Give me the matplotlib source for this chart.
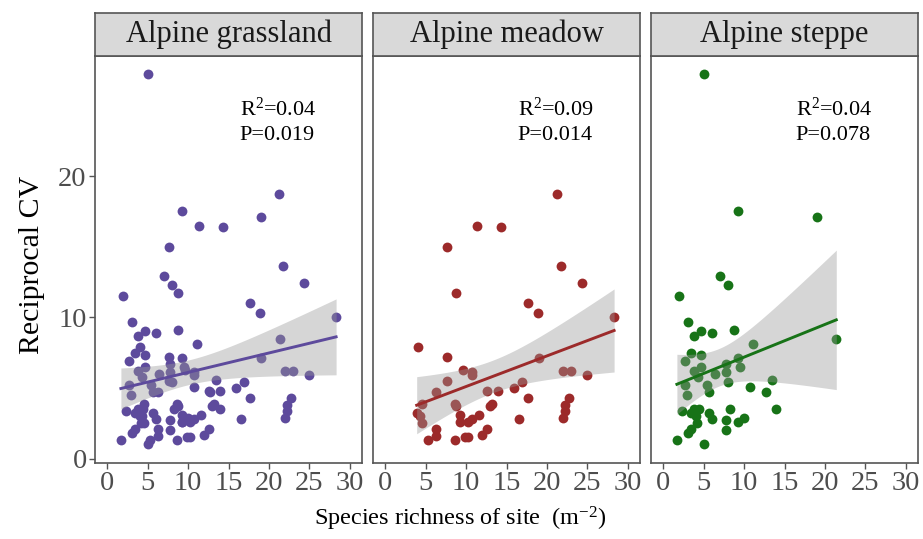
import numpy as np
import matplotlib.pyplot as plt

plt.rcParams['font.family'] = ['Liberation Serif', 'DejaVu Serif']
plt.rcParams['mathtext.fontset'] = 'custom'
plt.rcParams['mathtext.rm'] = 'Liberation Serif'
plt.rcParams['mathtext.it'] = 'Liberation Serif:italic'

# values
meadow_x = [21.3, 11.3, 14.3, 7.6, 21.7, 24.3, 8.7, 17.6, 18.9, 28.3,
            4.0, 7.6, 19.0, 9.6, 10.7, 10.7, 7.6, 22.0, 23.0, 25.0,
            6.3, 12.6, 14.0, 15.9, 16.9, 17.6, 22.7, 22.2, 22.2, 22.0,
            4.6, 8.6, 8.7, 13.2, 12.9, 3.9, 4.3, 4.6, 9.3, 9.3,
            10.3, 10.7, 11.6, 16.6, 6.3, 6.3, 5.3, 8.6, 9.9, 10.3,
            12.0, 12.6]
meadow_y = [18.7, 16.5, 16.4, 15.0, 13.6, 12.4, 11.7, 11.0, 10.3, 10.0,
            7.9, 7.2, 7.1, 6.3, 6.1, 5.9, 5.5, 6.2, 6.2, 5.9,
            4.7, 4.8, 4.8, 5.0, 5.4, 4.3, 4.3, 3.8, 3.4, 2.9,
            3.9, 3.9, 3.7, 3.9, 3.7, 3.2, 3.0, 2.5, 3.1, 2.6,
            2.6, 2.8, 3.1, 2.8, 2.1, 1.6, 1.3, 1.3, 1.5, 1.5,
            1.7, 2.1]

steppe_x = [5.1, 9.3, 19.0, 7.0, 8.0, 2.0, 3.1, 3.8, 4.7, 6.0,
            8.7, 21.4, 11.1, 3.4, 4.7, 2.7, 4.7, 7.8, 9.3, 9.5,
            3.8, 4.3, 6.4, 7.8, 13.4, 2.7, 5.4, 8.0, 10.7, 2.9,
            5.7, 12.7, 14.0, 2.3, 3.4, 3.8, 4.4, 4.0, 4.2, 5.7,
            6.0, 8.3, 7.8, 9.3, 10.0, 3.4, 3.1, 1.7, 5.1, 7.8]
steppe_y = [27.2, 17.5, 17.1, 12.9, 12.3, 11.5, 9.7, 8.7, 9.0, 8.9,
            9.1, 8.5, 8.1, 7.5, 7.3, 6.9, 6.5, 6.7, 7.1, 6.5,
            6.2, 5.8, 6.0, 6.1, 5.6, 5.2, 5.2, 5.4, 5.1, 4.5,
            4.7, 4.7, 3.5, 3.4, 3.2, 3.5, 3.5, 3.0, 2.5, 3.2,
            2.8, 3.5, 2.7, 2.6, 2.9, 2.1, 1.8, 1.3, 1.0, 2.0]

# grassland = all sites
grass_x = meadow_x + steppe_x
grass_y = meadow_y + steppe_y

panels = ['Alpine grassland', 'Alpine meadow', 'Alpine steppe']
r2_labels = ['0.04', '0.09', '0.04']
p_labels = ['0.019', '0.014', '0.078']
colors = ['#5D4A9C', '#9C2A2A', '#177317']
data = [(grass_x, grass_y), (meadow_x, meadow_y), (steppe_x, steppe_y)]


def fit_band(x, y):
    x = np.asarray(x)
    y = np.asarray(y)
    n = len(x)
    b, a = np.polyfit(x, y, 1)
    xs = np.linspace(x.min(), x.max(), 80)
    yhat = a + b * xs
    s = np.sqrt(np.sum((y - (a + b * x)) ** 2) / (n - 2))
    sxx = np.sum((x - x.mean()) ** 2)
    se = s * np.sqrt(1.0 / n + (xs - x.mean()) ** 2 / sxx)
    z = 1.96
    t = z + (z ** 3 + z) / (4 * (n - 2))
    return xs, yhat, yhat - t * se, yhat + t * se


W, H = 923, 539
fig = plt.figure(figsize=(W / 100, H / 100), dpi=100)

lefts = [95, 373, 651]
pw = 267
top, bottom = 56, 463
strip_top = 13
edge = '#555555'

for i, name in enumerate(panels):
    ax = fig.add_axes([lefts[i] / W, 1 - bottom / H, pw / W, (bottom - top) / H])
    x, y = data[i]
    ax.scatter(x, y, s=50, color=colors[i], linewidths=0, zorder=2)
    xs, yhat, lo, hi = fit_band(x, y)
    ax.fill_between(xs, lo, hi, color='#999999', alpha=0.4, linewidth=0, zorder=3)
    ax.plot(xs, yhat, color=colors[i], linewidth=2.1, zorder=4)

    ax.text(16.4, 24.7, 'R$^2$=' + r2_labels[i], fontsize=16, va='center', ha='left')
    ax.text(16.4, 22.9, 'P=' + p_labels[i], fontsize=16, va='center', ha='left')

    ax.set_xlim(-1.5, 31.5)
    ax.set_ylim(-0.31, 28.5)
    ax.set_xticks([0, 5, 10, 15, 20, 25, 30])
    ax.set_yticks([0, 10, 20])
    ax.tick_params(axis='both', length=4, width=1, color=edge, labelcolor='#4d4d4d',
                   labelsize=20.5, pad=2)
    if i > 0:
        ax.tick_params(axis='y', left=False, labelleft=False)
    for sp in ax.spines.values():
        sp.set_color(edge)
        sp.set_linewidth(1.2)

    sx = fig.add_axes([lefts[i] / W, 1 - top / H, pw / W, (top - strip_top) / H])
    sx.set_facecolor('#d9d9d9')
    sx.set_xticks([])
    sx.set_yticks([])
    for sp in sx.spines.values():
        sp.set_color(edge)
        sp.set_linewidth(1.2)
    sx.text(0.5, 0.5, name, fontsize=22, color='#1a1a1a', ha='center', va='center',
            transform=sx.transAxes)

fig.text(32 / W, 1 - 265 / H, 'Reciprocal CV', rotation=90, fontsize=21.5,
         ha='center', va='center')
fig.text(460 / W, 1 - 519 / H, 'Species richness of site  (m$^{-2}$)', fontsize=17.5,
         ha='center', va='center')

plt.savefig('out.png', dpi=100)
